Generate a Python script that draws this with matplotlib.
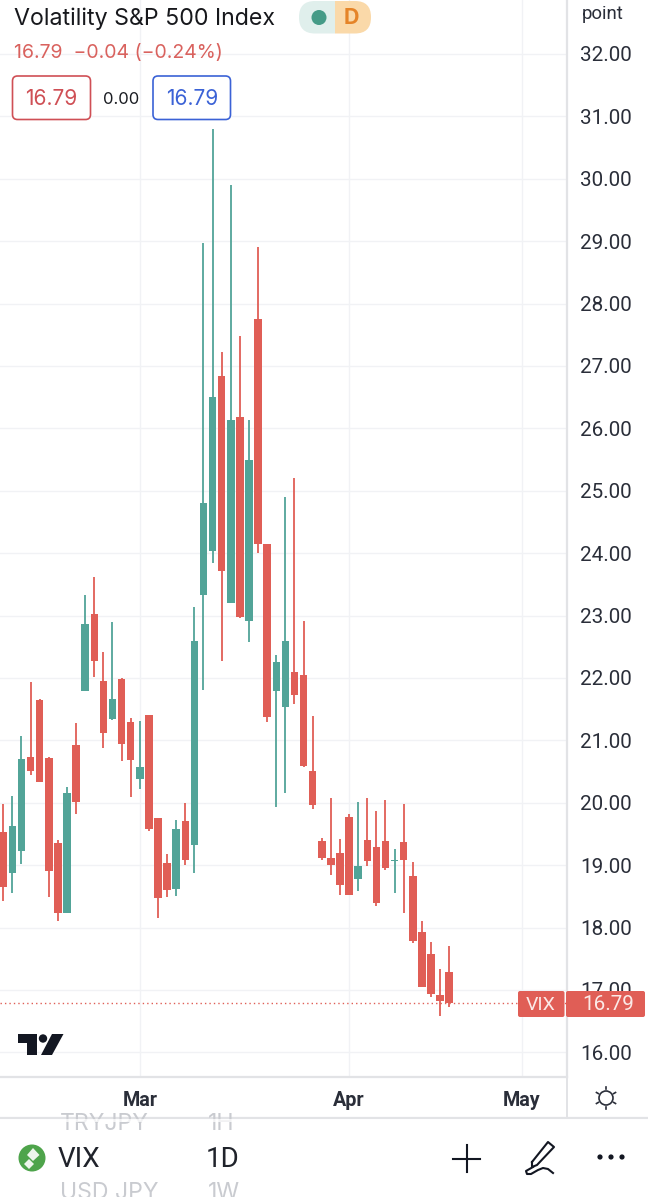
import matplotlib
matplotlib.use("Agg")
import matplotlib.pyplot as plt
from matplotlib.patches import FancyBboxPatch, Circle, Polygon, Rectangle
import numpy as np

plt.rcParams['font.family'] = ['Inter', 'DejaVu Sans']

W, H = 648, 1200
RED, GREEN = '#e05e56', '#52a498'

highs = [19.98,20.11,21.07,21.93,21.67,20.74,19.40,20.26,21.28,23.33,23.62,22.42,22.89,22.00,21.36,21.31,21.41,19.75,19.18,19.72,20.00,23.13,
         28.97,30.80,27.23,29.90,27.48,26.13,28.90,24.15,22.37,24.90,25.20,22.91,21.39,19.44,20.07,19.42,19.82,20.02,20.07,19.87,20.04,19.26,19.98,19.05,18.11,17.77,17.33,17.71]
tops = [19.53,19.62,20.70,20.73,21.65,20.71,19.36,20.15,20.93,22.86,23.02,21.95,21.66,21.98,21.29,20.57,21.40,19.75,19.04,19.58,19.70,22.60,
        24.80,26.51,26.84,26.13,26.18,25.49,27.76,24.15,22.25,22.60,22.10,22.04,20.51,19.38,19.11,19.20,19.78,18.99,19.41,19.29,19.38,19.08,19.37,18.82,17.93,17.57,16.92,17.29]
bottoms = [18.65,18.87,19.23,20.51,20.33,18.90,18.23,18.24,20.01,21.79,22.28,21.12,21.34,20.94,20.69,20.38,19.58,18.48,18.60,18.62,19.09,19.32,
           23.33,24.04,23.71,23.20,22.97,22.91,24.14,21.37,21.79,21.53,21.72,20.59,19.96,19.11,19.00,18.69,18.53,18.78,19.07,18.39,18.95,19.07,19.08,17.78,17.05,16.94,16.82,16.79]
lows = [18.42,18.55,19.02,20.44,20.33,18.49,18.11,18.24,19.82,21.79,22.01,20.88,21.32,20.67,20.10,20.22,19.55,18.16,18.49,18.51,19.00,18.88,
        21.80,23.85,22.27,23.20,22.96,22.57,24.00,21.29,19.94,20.15,21.59,20.57,19.90,19.09,18.84,18.52,18.53,18.58,18.99,18.35,18.93,18.56,18.24,17.76,17.05,16.89,16.58,16.73]
rising = [0,1,1,0,0,0,0,1,0,1,0,0,1,0,0,1,0,0,0,1,0,1,
          1,1,0,1,0,1,0,0,1,1,0,0,0,0,0,0,0,1,0,0,0,1,0,0,0,0,0,0]
price_ticks = list(range(16, 33))
month_pos = [15, 38, 57]
month_labels = ['Mar', 'Apr', 'May']
last_price = 16.79

fig = plt.figure(figsize=(W/100, H/100), dpi=100, facecolor='white')

# Main pane: 0..567 px wide, 0..1077 px tall
ax = fig.add_axes([0, 1-1077/H, 567/W, 1077/H])
ax.set_xlim(-3.3/9.1, (567-3.3)/9.1)
ax.set_ylim(32.865-1077/62.4, 32.865)
x = np.arange(len(highs))
cols = [GREEN if r else RED for r in rising]
ax.vlines(x, lows, highs, colors=cols, linewidth=1.3, zorder=3)
ax.bar(x, np.array(tops)-np.array(bottoms), bottom=bottoms, width=0.82, color=cols, linewidth=0, zorder=4)
ax.axhline(last_price, color=RED, lw=1.0, ls=(0, (1, 2.2)), zorder=5)

ax.set_axisbelow(True)
ax.grid(True, color='#f1f2f5', lw=1.0)
ax.yaxis.tick_right()
ax.set_yticks(price_ticks)
ax.set_yticklabels([f'{v:.2f}' for v in price_ticks], fontsize=14.9, color='#2a2e39', family=['Roboto'])
ax.set_xticks(month_pos)
ax.set_xticklabels(month_labels, fontsize=14.2, fontweight='bold', color='#2a2e39', family=['Roboto'])
ax.tick_params(axis='both', length=0)
ax.tick_params(axis='y', pad=9.5)
ax.tick_params(axis='x', pad=10)
for s in ['top', 'left']:
    ax.spines[s].set_visible(False)
for s in ['right', 'bottom']:
    ax.spines[s].set_color('#e2e3e6')
    ax.spines[s].set_linewidth(1.6)

# Overlay in screen pixels for the app's interface parts
ui = fig.add_axes([0, 0, 1, 1], zorder=10)
ui.set_xlim(0, W); ui.set_ylim(H, 0); ui.axis('off'); ui.patch.set_alpha(0)

def box(x0, y0, x1, y1, r, fc='none', ec='none', lw=1.2, z=2):
    ui.add_patch(FancyBboxPatch((x0+r, y0+r), x1-x0-2*r, y1-y0-2*r,
                 boxstyle=f'round,pad={r}', fc=fc, ec=ec, lw=lw, zorder=z))

def txt(x, y, s, size, color='#1a1c22', ha='left', weight='normal', fam='Inter', z=6):
    return ui.text(x, y, s, fontsize=size, color=color, ha=ha, va='center', fontweight=weight, family=[fam, 'DejaVu Sans'], zorder=z)

# header
txt(14, 18.5, 'Volatility S&P 500 Index', 16.7, '#17181c')
txt(14, 53, '16.79  −0.04 (−0.24%)', 14.0, '#d9625e')
box(12.5, 76, 90.5, 119.5, 5, fc='white', ec='#cf4f55')
txt(51.5, 99, '16.79', 15.0, '#cf4f55', ha='center')
txt(121.5, 99, '0.00', 12.0, '#1a1c22', ha='center')
box(153, 76, 230.5, 119.5, 5, fc='white', ec='#3b62d6')
txt(192, 99, '16.79', 15.0, '#3b62d6', ha='center')
txt(603, 14, 'point', 13.4, '#2a2e39', ha='center', fam='Roboto')

# status pill
clip = FancyBboxPatch((299+16, 1+16), 72-32, 0.5, boxstyle='round,pad=16', fc='none', ec='none')
ui.add_patch(clip)
r1 = Rectangle((299, 0), 36, 35, fc='#e0efec', ec='none', zorder=2); ui.add_patch(r1); r1.set_clip_path(clip)
r2 = Rectangle((335, 0), 37, 35, fc='#fad9a9', ec='none', zorder=2); ui.add_patch(r2); r2.set_clip_path(clip)
ui.add_patch(Circle((319, 17.5), 7.5, fc='#459b87', ec='none', zorder=3))
txt(351.5, 18, 'D', 15.5, '#e58428', ha='center', weight='bold')

# last price tags
box(518, 991, 564.5, 1017, 2, fc=RED)
box(566, 991, 645, 1017, 2, fc=RED)
txt(541, 1005, 'VIX', 14.0, '#fbe9e7', ha='center', fam='Roboto')
txt(608, 1005, '16.79', 14.9, '#fbe9e7', ha='center', fam='Roboto')

# TradingView mark
ink = '#131722'
ui.add_patch(Polygon([(18, 1034), (37, 1034), (37, 1055), (27, 1055), (27, 1043), (18, 1043)], fc=ink, ec='none', zorder=6))
ui.add_patch(Circle((43, 1038.5), 4.2, fc=ink, ec='none', zorder=6))
ui.add_patch(Polygon([(52, 1034), (63.5, 1034), (52, 1055), (41, 1055)], fc=ink, ec='none', zorder=6))

# sun icon
ui.add_patch(Circle((606, 1098), 7, fc='none', ec='#2a2e39', lw=1.2, zorder=6))
for a in np.deg2rad([30, 90, 150, 210, 270, 330]):
    ui.plot([606+8.8*np.cos(a), 606+11*np.cos(a)], [1098+8.8*np.sin(a), 1098+11*np.sin(a)], color='#2a2e39', lw=1.2, zorder=6)

# toolbar
ui.plot([0, 648], [1118, 1118], color='#e2e3e6', lw=1.6, zorder=6)
ui.plot([567, 567], [1077, 1118], color='#e2e3e6', lw=1.4, zorder=6)
txt(60, 1124, 'TRYJPY', 16.6, '#c9cbd0')
txt(208, 1124, '1H', 16.6, '#c9cbd0')
txt(60, 1193, 'USD JPY', 16.6, '#c9cbd0')
txt(208, 1193, '1W', 16.6, '#c9cbd0')
ui.add_patch(Rectangle((0, 1112), 648, 5.5, fc='none', ec='none'))
ui.add_patch(Rectangle((0, 1119), 648, 3, fc='white', alpha=0.75, ec='none', zorder=7))
ui.add_patch(Rectangle((0, 1197), 648, 3, fc='white', ec='none', zorder=7))

ui.add_patch(Circle((32, 1158), 13.5, fc='#4ea44b', ec='none', zorder=6))
ui.add_patch(Polygon([(33, 1148), (39.5, 1155), (33, 1161), (27, 1155)], fc='#eef6ec', ec='none', zorder=7))
ui.add_patch(Polygon([(29, 1159), (34, 1164), (29, 1169), (24, 1164)], fc='#eef6ec', ec='none', zorder=7))
txt(58, 1159.5, 'VIX', 20, '#20232b', fam='Roboto')
txt(206, 1159.5, '1D', 20, '#20232b', fam='Roboto')
ui.plot([453, 480], [1158.5, 1158.5], color=ink, lw=1.5, zorder=6)
ui.plot([466.5, 466.5], [1145, 1172], color=ink, lw=1.5, zorder=6)
# pen
ui.plot([532, 548, 554, 537, 532, 532], [1162, 1142, 1147, 1165, 1167, 1162], color=ink, lw=1.5, zorder=6)
ui.plot([533, 526, 527, 531, 538, 543, 548, 553], [1167, 1171, 1174, 1174, 1170, 1168, 1169, 1173], color=ink, lw=1.5, zorder=6)
for px in [600, 611, 622]:
    ui.add_patch(Circle((px, 1157), 2.6, fc=ink, ec='none', zorder=6))

fig.savefig('out.png', dpi=100, facecolor='white')
